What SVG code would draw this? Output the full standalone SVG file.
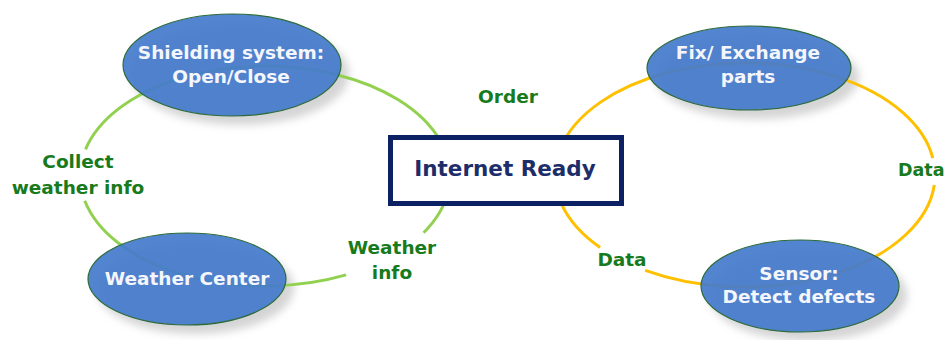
<svg xmlns="http://www.w3.org/2000/svg" width="947" height="340" viewBox="0 0 947 340">
  <defs>
    <filter id="soft" x="-20%" y="-20%" width="140%" height="140%">
      <feGaussianBlur stdDeviation="4"/>
    </filter>
    <style>
      .ring-green { fill: none; stroke: #92d050; stroke-width: 3; }
      .ring-orange { fill: none; stroke: #ffc000; stroke-width: 3; }
      .shadow { fill: #d4d4d4; filter: url(#soft); }
      .bubble { fill: #457bcc; fill-opacity: 0.93; stroke: #2d6b3a; stroke-width: 1.2; }
      .node-text { font-family: "DejaVu Sans", Verdana, sans-serif; font-weight: bold; font-size: 18.5px; fill: #f4f6fb; text-anchor: middle; }
      .edge-text { font-family: "DejaVu Sans", Verdana, sans-serif; font-weight: bold; font-size: 18.5px; fill: #177a1c; text-anchor: middle; }
      .hub-text { font-family: "DejaVu Sans", Verdana, sans-serif; font-weight: bold; font-size: 21.5px; fill: #1d2d6a; text-anchor: middle; }
    </style>
  </defs>

  <rect width="947" height="340" fill="#ffffff"/>

  <!-- drop shadows of the bubbles -->
  <g id="shadows">
    <ellipse class="shadow" cx="240" cy="74" rx="109" ry="51"/>
    <ellipse class="shadow" cx="195" cy="288" rx="99" ry="46"/>
    <ellipse class="shadow" cx="757" cy="77" rx="102" ry="42"/>
    <ellipse class="shadow" cx="808" cy="295" rx="99" ry="46"/>
  </g>

  <!-- the two cycles and their labels -->
  <g id="connectors">
    <path class="ring-green" d="M 84.8 200.7 A 185 110 0 0 0 346.1 274.9"/>
    <path class="ring-green" d="M 423.6 232.7 A 185 110 0 1 0 85.5 149.4"/>
    <path class="ring-orange" d="M 934.3 185.0 A 190 112 0 0 1 645.2 270.3"/>
    <path class="ring-orange" d="M 600.1 247.4 A 190 112 0 1 1 932.8 158.1"/>

    <text class="edge-text" x="78" y="168">Collect</text>
    <text class="edge-text" x="78" y="194">weather info</text>
    <text class="edge-text" x="392" y="254">Weather</text>
    <text class="edge-text" x="392" y="279">info</text>
    <text class="edge-text" x="508" y="103">Order</text>
    <text class="edge-text" x="622" y="266">Data</text>
    <text class="edge-text" x="898" y="176" style="text-anchor:start;font-size:17.5px">Data</text>
  </g>

  <g id="node-shielding">
    <ellipse class="bubble" cx="232" cy="65" rx="109" ry="51"/>
    <text class="node-text" x="231" y="59">Shielding system:</text>
    <text class="node-text" x="231" y="83">Open/Close</text>
  </g>

  <g id="node-weather-center">
    <ellipse class="bubble" cx="187" cy="279" rx="99" ry="46"/>
    <text class="node-text" x="187" y="285">Weather Center</text>
  </g>

  <g id="node-fix-exchange">
    <ellipse class="bubble" cx="749" cy="68" rx="102" ry="42"/>
    <text class="node-text" x="748" y="59">Fix/ Exchange</text>
    <text class="node-text" x="748" y="83">parts</text>
  </g>

  <g id="node-sensor">
    <ellipse class="bubble" cx="800" cy="286" rx="99" ry="46"/>
    <text class="node-text" x="799" y="280">Sensor:</text>
    <text class="node-text" x="799" y="303">Detect defects</text>
  </g>

  <g id="node-internet-ready">
    <rect x="390.5" y="137.5" width="231" height="66" fill="#ffffff" stroke="#0c2163" stroke-width="5"/>
    <text class="hub-text" x="505" y="176">Internet Ready</text>
  </g>
</svg>
